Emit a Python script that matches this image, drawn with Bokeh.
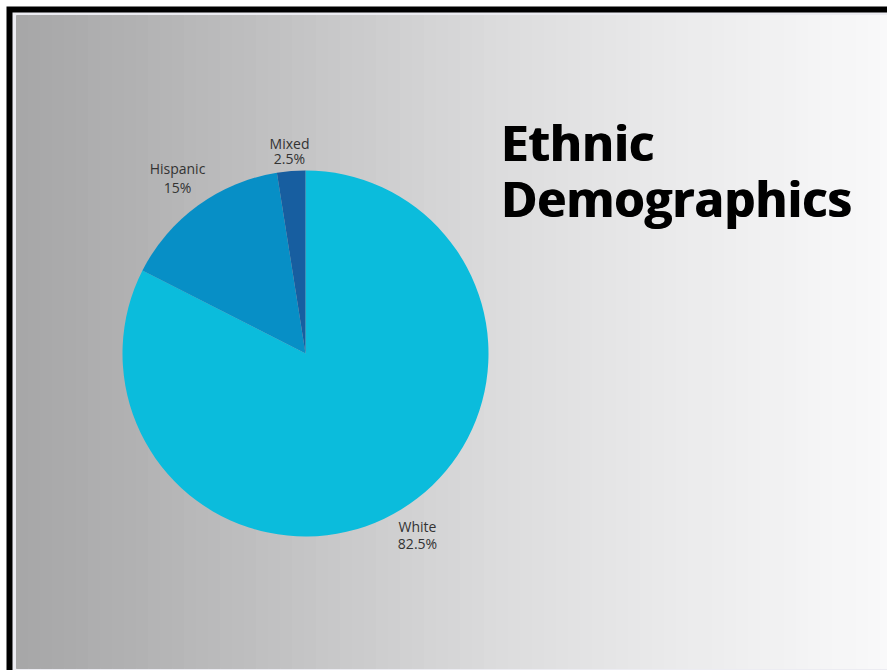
import math
from bokeh.plotting import figure
from bokeh.models import Range1d, ColumnDataSource
from bokeh.core.properties import value
from bokeh.embed import file_html
from bokeh.resources import INLINE

# Data
categories = ["White", "Hispanic", "Mixed"]
percentages = [82.5, 15, 2.5]
colors = ["#0bbcdc", "#078fc6", "#175ea0"]
title_lines = ["Ethnic", "Demographics"]

W, H = 887, 670
p = figure(width=W, height=H, output_backend="svg", toolbar_location=None,
           x_range=Range1d(0, W), y_range=Range1d(0, H), min_border=0)
p.axis.visible = False
p.grid.visible = False
p.outline_line_color = None
p.background_fill_color = "white"
p.border_fill_color = "white"

def Y(py):
    return H - py

# Border frame (decoration)
p.quad(left=[6], right=[W + 5], top=[Y(6)], bottom=[Y(H + 5)], fill_color="black", line_color=None)
p.quad(left=[12], right=[W + 5], top=[Y(12)], bottom=[Y(H + 5)], fill_color="#ececf2", line_color=None)

# Stepped gradient background
stops = [(16, 166), (120, 176), (300, 196), (500, 220), (700, 236), (887, 249)]
def shade(x):
    for (x0, c0), (x1, c1) in zip(stops[:-1], stops[1:]):
        if x <= x1:
            return c0 + (c1 - c0) * (x - x0) / (x1 - x0)
    return stops[-1][1]
band = 12
lefts, rights, fills = [], [], []
x = 16
while x < W:
    c = int(round(shade(x + band / 2)))
    lefts.append(x); rights.append(x + band)
    fills.append("#%02x%02x%02x" % (c, c, min(255, c + 1)))
    x += band
p.quad(left=lefts, right=rights, top=[Y(15)] * len(lefts), bottom=[Y(668)] * len(lefts),
       fill_color=fills, line_color=fills, line_width=1)

# Pie: starts at 12 o'clock, goes clockwise
cx, cy, r = 305, Y(353), 183
starts, ends = [], []
a = math.pi / 2
for v in percentages:
    sweep = v / 100 * 2 * math.pi
    starts.append(a - sweep)
    ends.append(a)
    a -= sweep
src = ColumnDataSource(dict(start=starts, end=ends, color=colors))
p.wedge(x=cx, y=cy, radius=r, start_angle="start", end_angle="end",
        fill_color="color", line_color=None, source=src)

# Slice labels (name line y, value line y)
label_pos = [(417, 526, 543), (177, 168, 187), (289, 143, 158)]
for (lx, ly1, ly2), cat, v in zip(label_pos, categories, percentages):
    pct = ("%g" % v) + "%"
    p.text(x=[lx, lx], y=[Y(ly1), Y(ly2)], text=[cat, pct],
           text_font=value("Open Sans"), text_font_size="14px", text_color="#333333",
           text_align="center", text_baseline="middle")

# Title (drawn twice with a slight offset for a heavier weight)
for dx in (0, 1.2):
    p.text(x=[500 + dx, 500 + dx], y=[Y(141), Y(197)], text=title_lines,
           text_font=value("Open Sans"), text_font_style="bold", text_font_size="49px",
           text_color="black", text_align="left", text_baseline="alphabetic")

open("out.html", "w").write(file_html(p, INLINE))
